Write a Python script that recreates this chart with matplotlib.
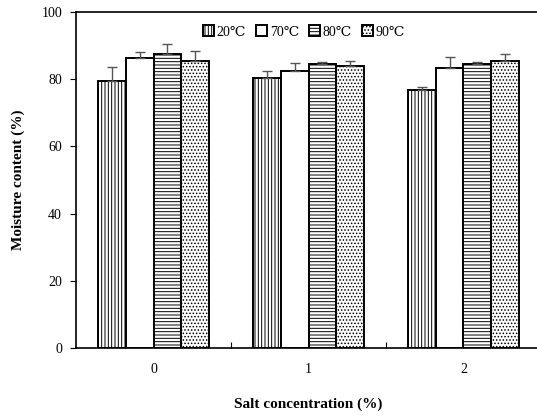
import matplotlib
matplotlib.use("Agg")
import matplotlib.pyplot as plt
import numpy as np

# ── Data ───────────────────────────────────────────────────────────────────────
salt = ["0", "1", "2"]
temps = ["20℃", "70℃", "80℃", "90℃"]
moist_20 = [79.5, 80.5, 76.7]
moist_70 = [86.2, 82.5, 83.2]
moist_80 = [87.4, 84.6, 84.6]
moist_90 = [85.3, 83.8, 85.4]
err_20 = [4.0, 1.8, 1.0]
err_70 = [2.0, 2.4, 3.3]
err_80 = [3.2, 0.5, 0.5]
err_90 = [3.0, 1.5, 2.0]

series = [moist_20, moist_70, moist_80, moist_90]
errors = [err_20, err_70, err_80, err_90]
hatches = ["|||||", "", "-----", "....."]

plt.rcParams["font.family"] = ["Liberation Serif", "DejaVu Serif"]
plt.rcParams["hatch.linewidth"] = 0.7

fig = plt.figure(figsize=(5.37, 4.16), dpi=100)
ax = fig.add_axes([76 / 537, 68 / 416, 465 / 537, 336 / 416])

x = np.arange(len(salt))
w = 0.18
for i, (vals, errs, h) in enumerate(zip(series, errors, hatches)):
    pos = x + (i - 1.5) * w
    ax.bar(pos, vals, w, color="white", edgecolor="black", linewidth=1.4,
           hatch=h, label=temps[i], zorder=2)
    ax.errorbar(pos, vals, yerr=[np.zeros(len(vals)), errs], fmt="none",
                ecolor="#555555", elinewidth=1, capsize=3.5, capthick=1, zorder=3)

ax.set_xlim(-0.5, 2.5)
ax.set_ylim(0, 100)
ax.set_yticks([0, 20, 40, 60, 80, 100])
ax.tick_params(axis="y", direction="out", length=4, labelsize=10, pad=6)
ax.set_xticks([0.5, 1.5])
ax.set_xticklabels([])
ax.tick_params(axis="x", which="major", direction="in", length=4)
ax.set_xticks(x, minor=True)
ax.set_xticklabels(salt, minor=True)
ax.tick_params(axis="x", which="minor", length=0, labelsize=10, pad=11)

for sp in ax.spines.values():
    sp.set_linewidth(1.2)

ax.set_xlabel("Salt concentration (%)", fontsize=11, fontweight="bold", labelpad=15)
ax.set_ylabel("Moisture content (%)", fontsize=11, fontweight="bold", labelpad=12)

ax.legend(loc="upper center", bbox_to_anchor=(0.49, 0.985), ncol=4, frameon=False,
          fontsize=10, handlelength=0.8, handleheight=0.8, handletextpad=0.2,
          columnspacing=0.7, borderaxespad=0.2)

fig.savefig("out.png", dpi=100)
